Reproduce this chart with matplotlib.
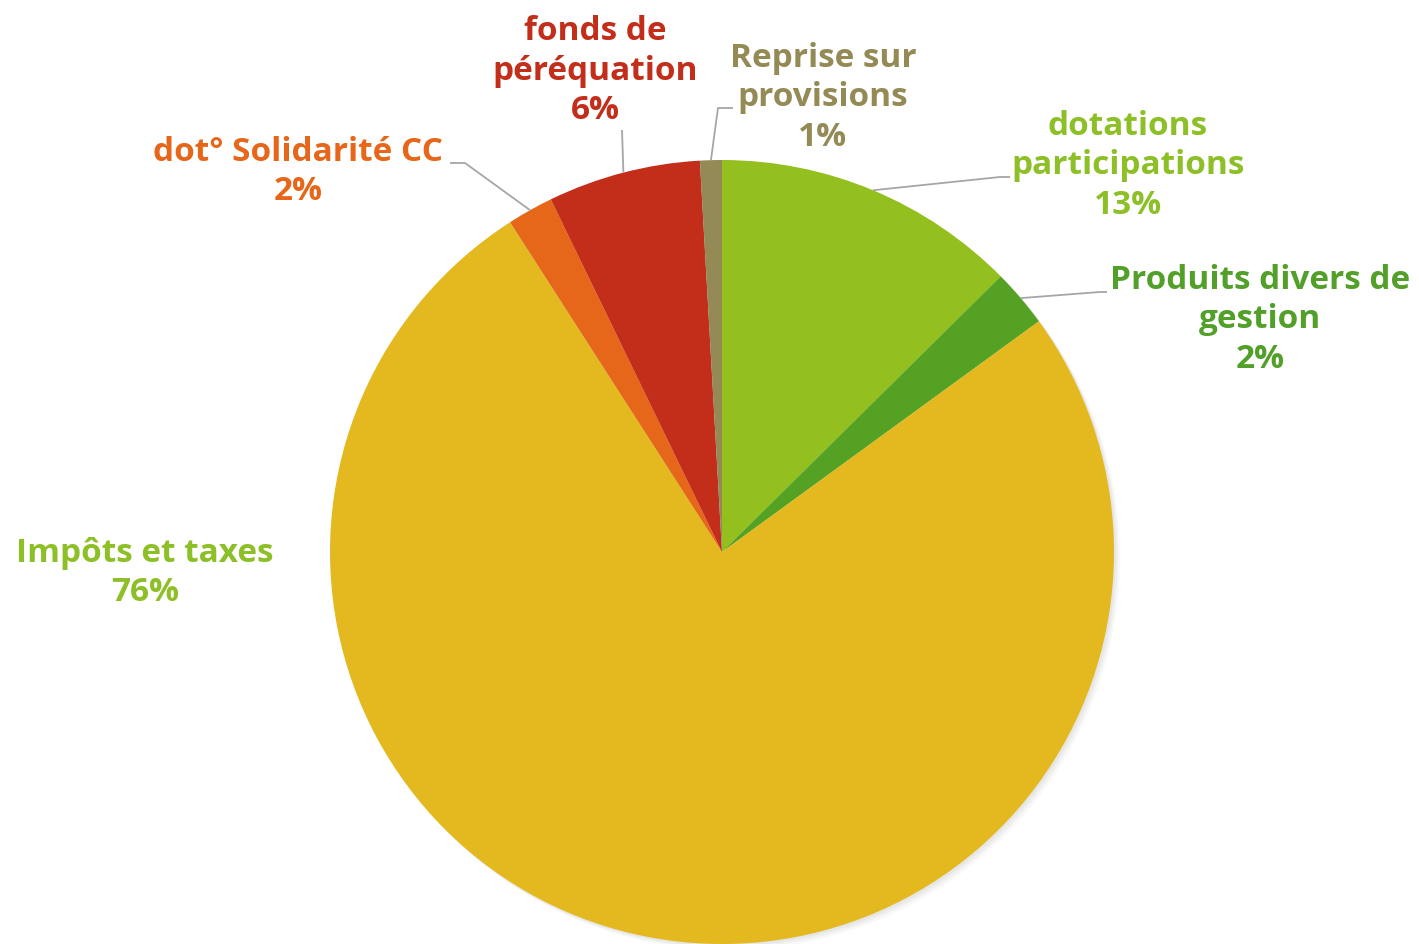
import numpy as np
import matplotlib
matplotlib.use("Agg")
import matplotlib.pyplot as plt
from matplotlib.patches import Circle

# ---- data ----
categories = ["dotations\nparticipations", "Produits divers de\ngestion", "Impôts et taxes",
              "dot° Solidarité CC", "fonds de\npéréquation", "Reprise sur\nprovisions"]
values = [12.6, 2.4, 76.0, 1.9, 6.3, 0.9]
wedge_colors = ["#93C01F", "#55A123", "#E3B91F", "#E6671A", "#C32E1A", "#948A56"]
label_colors = ["#8DBF26", "#52A02A", "#8DBF26", "#E6671A", "#C32E1A", "#948A56"]

# ---- layout (pixel coordinates, y measured from top) ----
W, H = 1419, 944
cx, cy, R = 722, 552, 392
label_pos = [(1128, 166), (1260, 320), (145, 573), (298, 172), (595, 71), (823, 98)]
# leader elbows: (elbow point, end point) or None
leaders = [((1000, 177), (1010, 177)),
           ((1100, 292), (1107, 292)),
           None,
           ((465, 163), (450, 163)),
           ((622, 130), (622, 130)),
           ((718, 108), (733, 108))]

fig = plt.figure(figsize=(W / 100, H / 100), dpi=100)
ax = fig.add_axes([0, 0, 1, 1])
ax.set_xlim(0, W)
ax.set_ylim(0, H)
ax.axis("off")

def fy(y):
    return H - y

# subtle shadow
for off, a in [(6, 0.05), (4, 0.07), (2, 0.08)]:
    ax.add_patch(Circle((cx + off, fy(cy) - off), R, color="#808080", alpha=a, lw=0, zorder=0))

wedges, _ = ax.pie(values, colors=wedge_colors, startangle=90, counterclock=False,
                   center=(cx, fy(cy)), radius=R, frame=True,
                   wedgeprops=dict(linewidth=0))
for w in wedges:
    w.set_zorder(2)
ax.set_xlim(0, W)
ax.set_ylim(0, H)
ax.set_aspect("equal")
ax.axis("off")

total = sum(values)
for i, w in enumerate(wedges):
    pct = values[i] / total * 100
    txt = f"{categories[i]}\n{pct:.0f}%"
    lx, ly = label_pos[i]
    ax.text(lx, fy(ly), txt, ha="center", va="center", color=label_colors[i],
            fontsize=24, fontweight="bold", family=["Open Sans", "DejaVu Sans"],
            linespacing=1.26, zorder=5)
    if leaders[i] is not None:
        mid = np.deg2rad((w.theta1 + w.theta2) / 2)
        sx = cx + R * np.cos(mid)
        sy = fy(cy) + R * np.sin(mid)
        (ex, ey), (tx, ty) = leaders[i]
        ax.plot([sx, ex, tx], [sy, fy(ey), fy(ty)], color="#A6A6A6", lw=1.3, zorder=4,
                solid_capstyle="butt")

fig.savefig("out.png", dpi=100, facecolor="white")
